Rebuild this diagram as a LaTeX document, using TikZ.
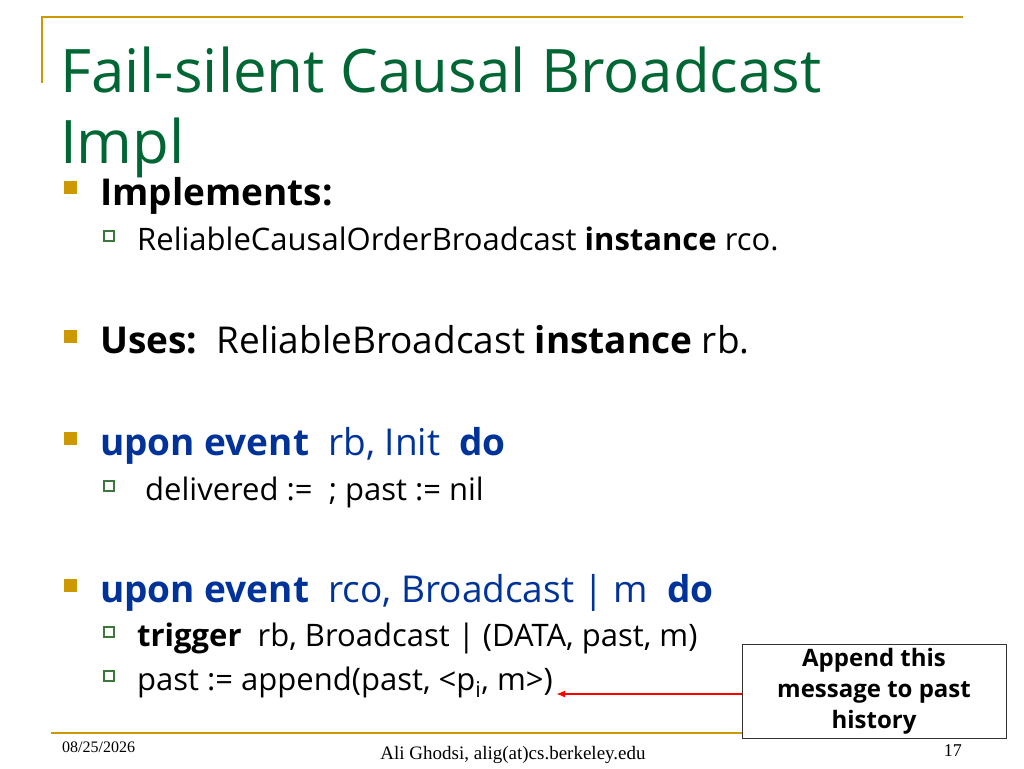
\documentclass[tikz,border=0pt]{standalone}
\usepackage{fontspec}
\usetikzlibrary{arrows.meta}
\setmainfont{Open Sans}
\newfontfamily\footfont{Liberation Serif}
\definecolor{ttlgreen}{RGB}{0,102,51}
\definecolor{gold}{RGB}{204,153,0}
\definecolor{kwblue}{RGB}{0,51,153}
\definecolor{subgreen}{RGB}{60,120,60}
\begin{document}
\begin{tikzpicture}[x=1pt,y=-1pt,
  t1/.style={anchor=base west,inner sep=0pt,font=\fontsize{37}{44}\selectfont},
  t2/.style={anchor=base west,inner sep=0pt,font=\fontsize{31}{36}\selectfont},
  b1/.style={fill=gold,minimum size=13pt,inner sep=0pt},
  b2/.style={draw=subgreen,line width=1.2pt,minimum size=10pt,inner sep=0pt,fill=white}]
\useasboundingbox (0,0) rectangle (1024,768);
\draw[gold,line width=2pt] (42,83) -- (42,17) -- (963,17);
\draw[gold,line width=2pt] (51,733) -- (963,733);
\node[anchor=base west,inner sep=0pt,text=ttlgreen,font=\fontsize{60}{71}\selectfont] (title1) at (60,92) {Fail-silent Causal Broadcast};
\node[anchor=base west,inner sep=0pt,text=ttlgreen,font=\fontsize{60}{71}\selectfont] (title2) at (60,163) {Impl};
\node[b1] (bu1) at (70,187) {};
\node[t1] (l1) at (100,205) {\textbf{Implements:}};
\node[b2] (bs1) at (109,236) {};
\node[t2] (l2) at (137,250) {ReliableCausalOrderBroadcast \textbf{instance} rco.};
\node[b1] (bu2) at (70,336) {};
\node[t1] (l3) at (100,353) {\textbf{Uses:}\ \ ReliableBroadcast \textbf{instance} rb.};
\node[b1] (bu3) at (70,438) {};
\node[t1,text=kwblue] (l4) at (100,455) {\textbf{upon event}\ \ rb, Init\ \ \textbf{do}};
\node[b2] (bs2) at (109,486) {};
\node[t2] (l5) at (145,500) {delivered :=\ \ ; past := nil};
\node[b1] (bu4) at (70,585) {};
\node[t1,text=kwblue] (l6) at (100,602) {\textbf{upon event}\ \ rco, Broadcast | m\ \ \textbf{do}};
\node[b2] (bs3) at (109,632) {};
\node[t2] (l7) at (137,646) {\textbf{trigger}\ \ rb, Broadcast | (DATA, past, m)};
\node[b2] (bs4) at (109,676) {};
\node[t2] (l8) at (137,690) {past := append(past, <p\textsubscript{i}, m>)};
\node[draw=black!80,line width=1pt,fill=white,minimum width=264pt,minimum height=94pt,inner sep=0pt,align=center,font=\fontsize{24}{31}\selectfont\bfseries] (box) at (874,691) {Append this\\message to past\\history};
\draw[red,line width=2pt,-{Latex[length=9pt,width=7pt]}] (box.west |- 0,694) -- (556,694);
\node[anchor=base west,inner sep=0pt,font=\footfont\fontsize{16}{18}\selectfont] (date) at (62,752) {08/25/2026};
\node[anchor=base,inner sep=0pt,font=\footfont\fontsize{19}{22}\selectfont] (auth) at (513,759) {Ali Ghodsi, alig(at)cs.berkeley.edu};
\node[anchor=base east,inner sep=0pt,font=\footfont\fontsize{18}{20}\selectfont] (pg) at (962,756) {17};
\end{tikzpicture}
\end{document}
